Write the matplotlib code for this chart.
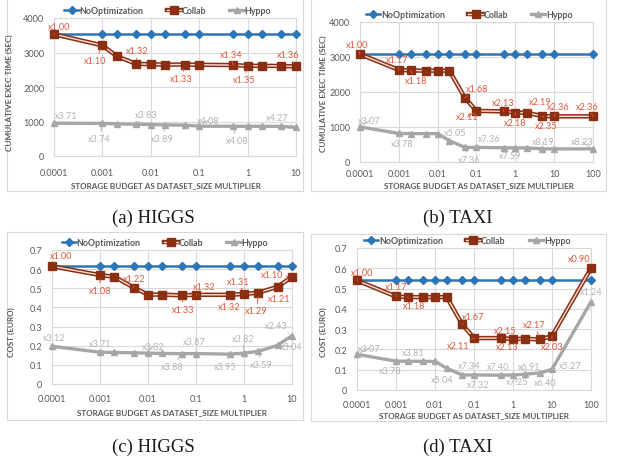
"""Storage budget sweep: exec time and cost for HIGGS and TAXI."""

import matplotlib
matplotlib.use("Agg")
import matplotlib.pyplot as plt
from matplotlib.lines import Line2D
from matplotlib.patches import Rectangle
from matplotlib.ticker import FixedLocator, NullLocator

plt.rcParams["font.family"] = ["Lato", "DejaVu Sans"]

# ---- data -----------------------------------------------------------------
budget_higgs = [0.0001, 0.001, 0.002, 0.005, 0.01, 0.02, 0.05, 0.1, 0.5, 1, 2, 5, 10]
budget_taxi = [0.0001, 0.001, 0.002, 0.005, 0.01, 0.02, 0.05, 0.1, 0.5, 1, 2, 5, 10, 100]

higgs_time_noopt = [3530, 3530, 3530, 3530, 3530, 3530, 3530, 3530, 3530, 3530, 3530, 3530, 3530]
higgs_time_collab = [3530, 3205, 2890, 2670, 2660, 2650, 2650, 2645, 2635, 2615, 2612, 2610, 2595]
higgs_time_hyppo = [950, 945, 930, 922, 910, 900, 895, 865, 862, 862, 862, 860, 827]
higgs_time_collab_text = ["x1.00", "x1.10", "x1.32", "x1.33", "x1.34", "x1.35", "x1.36"]
higgs_time_collab_at = [0, 1, 3, 6, 8, 9, 12]
higgs_time_hyppo_text = ["x3.71", "x3.74", "x3.83", "x3.89", "x4.08", "x4.08", "x4.27"]
higgs_time_hyppo_at = [0, 1, 3, 5, 7, 8, 12]

taxi_time_noopt = [3080, 3080, 3080, 3080, 3080, 3080, 3080, 3080, 3080, 3080, 3080, 3080, 3080, 3080]
taxi_time_collab = [3080, 2630, 2615, 2610, 2610, 2610, 1835, 1460, 1446, 1413, 1406, 1311, 1305, 1305]
taxi_time_hyppo = [1003, 815, 812, 810, 810, 610, 418, 418, 406, 405, 400, 376, 375, 374]
taxi_time_collab_text = ["x1.00", "x1.17", "x1.18", "x1.68", "x2.11", "x2.13", "x2.18",
                         "x2.19", "x2.35", "x2.36", "x2.36"]
taxi_time_collab_at = [0, 1, 2, 6, 7, 8, 9, 10, 11, 12, 13]
taxi_time_hyppo_text = ["x3.07", "x3.78", "x5.05", "x7.36", "x7.36", "x7.59", "x8.19", "x8.23"]
taxi_time_hyppo_at = [0, 1, 5, 6, 7, 8, 11, 13]

higgs_cost_noopt = [0.615, 0.615, 0.615, 0.615, 0.615, 0.615, 0.615, 0.615, 0.615, 0.615, 0.615, 0.615, 0.615]
higgs_cost_collab = [0.615, 0.569, 0.560, 0.504, 0.467, 0.467, 0.463, 0.466, 0.466, 0.470, 0.477, 0.508, 0.560]
higgs_cost_hyppo = [0.197, 0.166, 0.165, 0.163, 0.161, 0.160, 0.158, 0.159, 0.156, 0.161, 0.171, 0.202, 0.253]
higgs_cost_collab_text = ["x1.00", "x1.08", "x1.22", "x1.33", "x1.32", "x1.32", "x1.31",
                          "x1.29", "x1.21", "x1.10"]
higgs_cost_collab_at = [0, 1, 3, 6, 7, 8, 9, 10, 11, 12]
higgs_cost_hyppo_text = ["x3.12", "x3.71", "x3.82", "x3.88", "x3.87", "x3.95", "x3.82",
                         "x3.59", "x3.04", "x2.43"]
higgs_cost_hyppo_at = [0, 1, 4, 6, 7, 8, 9, 10, 11, 12]

taxi_cost_noopt = [0.54, 0.54, 0.54, 0.54, 0.54, 0.54, 0.54, 0.54, 0.54, 0.54, 0.54, 0.54, 0.54, 0.54]
taxi_cost_collab = [0.54, 0.461, 0.458, 0.458, 0.458, 0.458, 0.323, 0.256, 0.256, 0.251, 0.253, 0.249, 0.266, 0.600]
taxi_cost_hyppo = [0.176, 0.142, 0.142, 0.141, 0.141, 0.107, 0.074, 0.074, 0.073, 0.074, 0.078, 0.084, 0.102, 0.435]
taxi_cost_collab_text = ["x1.00", "x1.17", "x1.18", "x1.67", "x2.11", "x2.15", "x2.13",
                         "x2.17", "x2.03", "x0.90"]
taxi_cost_collab_at = [0, 1, 2, 6, 7, 8, 10, 11, 12, 13]
taxi_cost_hyppo_text = ["x3.07", "x3.78", "x3.81", "x5.04", "x7.34", "x7.32", "x7.40",
                        "x7.25", "x6.91", "x6.40", "x5.27", "x1.24"]
taxi_cost_hyppo_at = [0, 1, 2, 5, 6, 7, 8, 9, 10, 11, 12, 13]

time_ticks = [0, 1000, 2000, 3000, 4000]
cost_ticks = [0, 0.1, 0.2, 0.3, 0.4, 0.5, 0.6, 0.7]
xticks_higgs = [0.0001, 0.001, 0.01, 0.1, 1, 10]
xticks_taxi = [0.0001, 0.001, 0.01, 0.1, 1, 10, 100]
xtick_labels_taxi = ["0.0001", "0.001", "0.01", "0.1", "1", "10", "100"]

# ---- style ----------------------------------------------------------------
W, H = 628, 464
BLUE = "#2E75B6"
BROWN = "#8A2F12"
GRAY = "#A6A6A6"
RED_TXT = "#E2553A"
GRAY_TXT = "#B3B3B3"
AXIS_TXT = "#595959"
GRID = "#D9D9D9"
TICK_FS = 6.6
NOTE_FS = 6.6
LABEL_FS = 5.9


def fx(px):
    return px / W


def fy(py):
    return 1 - py / H


def annotate(ax, xs, ys, at, texts, offsets, color):
    for i, txt, (dx, dy) in zip(at, texts, offsets):
        ax.annotate(txt, xy=(xs[i], ys[i]), xytext=(dx, dy), textcoords="offset pixels",
                    ha="center", va="center", fontsize=NOTE_FS, color=color, zorder=6,
                    arrowprops=dict(arrowstyle="-", color=color, lw=0.7, shrinkA=0, shrinkB=3))


def draw_panel(box, xs, noopt, collab, hyppo, yticks, ytick_fmt, xticks, xlabels, xlim_hi, xpad):
    left, top, right, bottom = box
    ax = fig.add_axes([fx(left), fy(bottom), fx(right - left), (bottom - top) / H])
    ax.set_xscale("log")
    ax.set_xlim(0.0001, xlim_hi)
    ax.set_ylim(yticks[0], yticks[-1])
    ax.xaxis.set_major_locator(FixedLocator(xticks))
    ax.xaxis.set_minor_locator(NullLocator())
    ax.set_xticklabels(xlabels)
    ax.set_yticks(yticks)
    ax.set_yticklabels([ytick_fmt(v) for v in yticks])
    ax.tick_params(length=0, labelsize=TICK_FS, labelcolor=AXIS_TXT)
    ax.tick_params(axis="x", pad=xpad)
    ax.tick_params(axis="y", pad=7)
    ax.grid(True, color=GRID, lw=0.8)
    for sp in ax.spines.values():
        sp.set_color(GRID)
        sp.set_linewidth(0.8)
    ax.set_axisbelow(True)

    ax.plot(xs, noopt, color=BLUE, lw=1.8, marker="D", ms=3.8, zorder=3)
    ax.plot(xs, collab, color=BROWN, lw=3.2, zorder=4)
    ax.plot(xs, collab, color="#F6E0D8", lw=1.0, zorder=4.1)
    ax.plot(xs, collab, ls="none", marker="s", ms=5.2, color=BROWN, zorder=4.2)
    ax.plot(xs, hyppo, color=GRAY, lw=2.4, marker="^", ms=4.8, zorder=5)
    for s in ax.lines:
        s.set_clip_on(False)

    h_noopt = Line2D([], [], color=BLUE, lw=1.8, marker="D", ms=3.8)
    h_collab = (Line2D([], [], color=BROWN, lw=3.2),
                Line2D([], [], color="#F6E0D8", lw=1.0),
                Line2D([], [], ls="none", color=BROWN, marker="s", ms=5.2))
    h_hyppo = Line2D([], [], color=GRAY, lw=2.4, marker="^", ms=4.8)
    leg = ax.legend([h_noopt, h_collab, h_hyppo], ["NoOptimization", "Collab", "Hyppo"],
                    loc="lower center", bbox_to_anchor=(0.47, 0.99), ncol=3, frameon=False,
                    fontsize=6.4, handlelength=1.6, handletextpad=0.1, columnspacing=2.6,
                    borderaxespad=0.1)
    for t in leg.get_texts():
        t.set_color(AXIS_TXT)
        t.set_fontweight("bold")
    return ax


def time_fmt(v):
    return f"{v:d}"


def cost_fmt(v):
    return "0" if v == 0 else f"{v:.1f}"


fig = plt.figure(figsize=(W / 100, H / 100), dpi=100)

# panel frames
for (l, t, r, b) in [(7, -2, 303, 192), (311, -2, 606, 192), (7, 233, 303, 421), (311, 235, 606, 422)]:
    fig.add_artist(Rectangle((fx(l), fy(b)), fx(r - l), (b - t) / H, transform=fig.transFigure,
                             fill=False, edgecolor=GRID, lw=0.8))

xtick_labels_higgs = xtick_labels_taxi[:6]

# (a) HIGGS exec time
ax = draw_panel((54, 19, 296, 157), budget_higgs, higgs_time_noopt, higgs_time_collab,
                higgs_time_hyppo, time_ticks, time_fmt, xticks_higgs, xtick_labels_higgs, 10, 9)
annotate(ax, budget_higgs, higgs_time_collab, higgs_time_collab_at, higgs_time_collab_text,
         [(5, 8), (-7, -15), (1, 13), (-3, -14), (-2, 11), (-3, -14), (-8, 12)], RED_TXT)
annotate(ax, budget_higgs, higgs_time_hyppo, higgs_time_hyppo_at, higgs_time_hyppo_text,
         [(12, 8), (-3, -15), (10, 10), (-3, -14), (9, 6), (4, -14), (-19, 10)], GRAY_TXT)

# (b) TAXI exec time
ax = draw_panel((360, 23, 593, 163), budget_taxi, taxi_time_noopt, taxi_time_collab,
                taxi_time_hyppo, time_ticks, time_fmt, xticks_taxi, xtick_labels_taxi, 100, 5)
annotate(ax, budget_taxi, taxi_time_collab, taxi_time_collab_at, taxi_time_collab_text,
         [(-3, 10), (-2, 10), (6, -10), (12, 9), (-9, -6), (0, 9), (0, -10), (13, 11),
          (4, -9), (4, 10), (-6, 10)], RED_TXT)
annotate(ax, budget_taxi, taxi_time_hyppo, taxi_time_hyppo_at, taxi_time_hyppo_text,
         [(9, 6), (3, -10), (6, 8), (4, -12), (13, 9), (7, -8), (1, 7), (-11, 7)], GRAY_TXT)

# (c) HIGGS cost
ax = draw_panel((52, 251, 292, 385), budget_higgs, higgs_cost_noopt, higgs_cost_collab,
                higgs_cost_hyppo, cost_ticks, cost_fmt, xticks_higgs, xtick_labels_higgs, 10, 7)
annotate(ax, budget_higgs, higgs_cost_collab, higgs_cost_collab_at, higgs_cost_collab_text,
         [(9, 11), (0, -15), (1, 9), (2, -14), (8, 8), (0, -12), (-6, 13), (-2, -18),
          (2, -12), (-20, 2)], RED_TXT)
annotate(ax, budget_higgs, higgs_cost_hyppo, higgs_cost_hyppo_at, higgs_cost_hyppo_text,
         [(2, 9), (0, 9), (5, 7), (-9, -13), (-2, 12), (-4, -12), (-1, 15), (3, -13),
          (14, -1), (-16, 10)], GRAY_TXT)

# (d) TAXI cost
ax = draw_panel((357, 249, 591, 391), budget_taxi, taxi_cost_noopt, taxi_cost_collab,
                taxi_cost_hyppo, cost_ticks, cost_fmt, xticks_taxi, xtick_labels_taxi, 100, 7)
annotate(ax, budget_taxi, taxi_cost_collab, taxi_cost_collab_at, taxi_cost_collab_text,
         [(5, 8), (0, 10), (6, -8), (11, 8), (-16, -7), (4, 8), (-18, -8), (-6, 15),
          (0, -10), (-12, 10)], RED_TXT)
annotate(ax, budget_taxi, taxi_cost_hyppo, taxi_cost_hyppo_at, taxi_cost_hyppo_text,
         [(12, 6), (-6, -9), (5, 9), (-5, -11), (7, 9), (4, -10), (-3, 9), (4, -7),
          (4, 8), (5, -10), (18, 4), (0, 10)], GRAY_TXT)

# axis titles
xlabel = "STORAGE BUDGET AS DATASET_SIZE MULTIPLIER"
lab = dict(fontsize=LABEL_FS, color=AXIS_TXT, fontweight="bold", ha="center", va="center")
fig.text(fx(166), fy(186), xlabel, **lab)
fig.text(fx(479), fy(186), xlabel, **lab)
fig.text(fx(172), fy(413), xlabel, **lab)
fig.text(fx(474), fy(416), xlabel, **lab)
fig.text(fx(9), fy(93), "CUMULATIVE EXEC TIME (SEC)", rotation=90, **lab)
fig.text(fx(323), fy(94), "CUMULATIVE EXEC TIME (SEC)", rotation=90, **lab)
fig.text(fx(11), fy(332), "COST (EURO)", rotation=90, **lab)
fig.text(fx(323), fy(332), "COST (EURO)", rotation=90, **lab)

# captions
cap = dict(fontsize=13.5, family="Liberation Serif", color="#1a1a1a", ha="center", va="center")
fig.text(fx(153), fy(218), "(a) HIGGS", **cap)
fig.text(fx(458), fy(218), "(b) TAXI", **cap)
fig.text(fx(153), fy(447), "(c) HIGGS", **cap)
fig.text(fx(458), fy(447), "(d) TAXI", **cap)

fig.savefig("out.png", dpi=100)
